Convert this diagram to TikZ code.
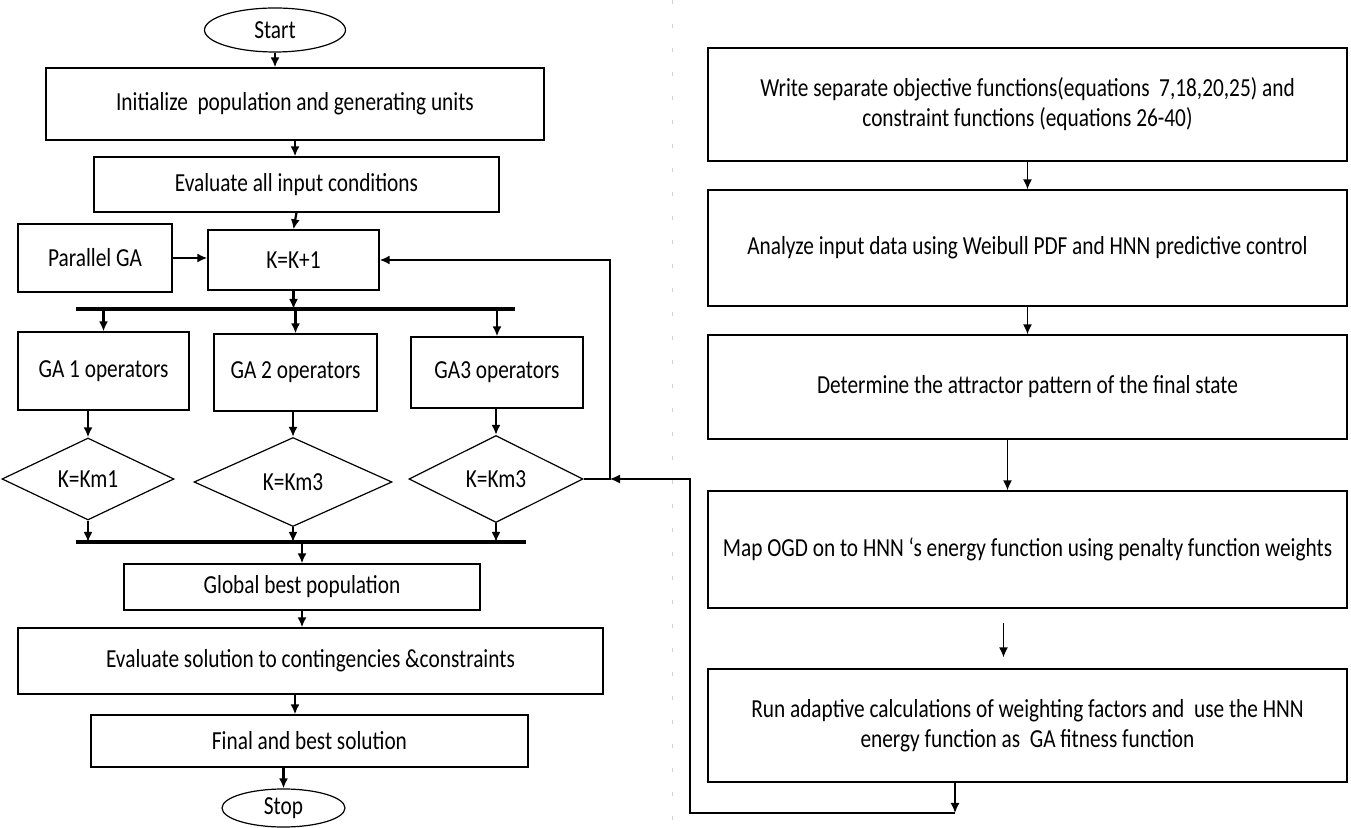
\documentclass[tikz,border=0pt]{standalone}
\usepackage{fontspec}
\setmainfont[FakeStretch=0.82]{Carlito}
\usetikzlibrary{shapes.geometric,arrows.meta,positioning}

\begin{document}
\begin{tikzpicture}[x=0.5pt, y=-0.5pt, >={Latex[length=5pt,width=4.5pt]},
    every node/.style={font=\fontsize{13}{15}\selectfont},
    box/.style={draw, line width=0.6pt, rectangle, inner sep=2pt, align=center},
    term/.style={draw, line width=0.6pt, ellipse, inner sep=0pt},
    test/.style={draw, line width=0.6pt, diamond, inner sep=0pt},
    link/.style={->, line width=1.1pt},
    bar/.style={line width=1.6pt}]
    \useasboundingbox (0,0) rectangle (1351,828);

    % Faint separator
    \draw[gray!35, line width=0.5pt, dash pattern=on 2pt off 10pt] (672,0) -- (672,828);

    % Left column
    \node[term, minimum width=70.5pt, minimum height=22pt] (start) at (275,30) {Start};
    \node[box, minimum width=249pt, minimum height=36pt] (init) at (295,104) {Initialize~ population and generating units};
    \node[box, minimum width=202.5pt, minimum height=27.5pt] (evalin) at (296.5,184.5) {Evaluate all input conditions};
    \node[box, minimum width=77pt, minimum height=34pt] (pga) at (95,258) {Parallel GA};
    \node[box, minimum width=85.5pt, minimum height=30pt] (kinc) at (293.5,260) {K=K+1};

    % Parallel branches
    \node[box, minimum width=85.5pt, minimum height=39pt] (ga1) at (103.5,371) {GA 1 operators};
    \node[box, minimum width=81.5pt, minimum height=38.5pt] (ga2) at (295.5,372.5) {GA 2 operators};
    \node[box, minimum width=86pt, minimum height=35.5pt] (ga3) at (497,372.5) {GA3 operators};
    \node[test, minimum width=86pt, minimum height=41pt] (d1) at (88,479) {K=Km1};
    \node[test, minimum width=99pt, minimum height=44.5pt] (d2) at (293,482) {K=Km3};
    \node[test, minimum width=87pt, minimum height=43.5pt] (d3) at (496,479) {K=Km3};

    \node[box, minimum width=178pt, minimum height=23pt] (gbest) at (302,587) {Global best population};
    \node[box, minimum width=292.5pt, minimum height=33pt] (evalsol) at (310.5,661) {Evaluate solution to contingencies \&constraints};
    \node[box, minimum width=218.5pt, minimum height=26pt] (final) at (309.5,741) {Final and best solution};
    \node[term, minimum width=61.5pt, minimum height=19pt] (stop) at (283.5,808) {Stop};

    % Bars
    \coordinate (b1w) at (76,309);
    \coordinate (b1e) at (515,309);
    \coordinate (b2w) at (76,542);
    \coordinate (b2e) at (526,542);
    \draw[bar] (b1w) -- (b1e);
    \draw[bar] (b2w) -- (b2e);

    % Left arrows
    \draw[link] (start.south) -- (start.south |- init.north);
    \draw[link] (init.south) -- (init.south |- evalin.north);
    \draw[link] (evalin.south) -- (kinc.north);
    \draw[link] (pga.east) -- (pga.east -| kinc.west);
    \draw[link] (kinc.south) -- (kinc.south |- b1w);
    \foreach \n in {ga1,ga2,ga3}
        \draw[link] (\n.north |- b1w) -- (\n.north);
    \foreach \n/\m in {ga1/d1,ga2/d2,ga3/d3}
        \draw[link] (\m.north |- \n.south) -- (\m.north);
    \foreach \m in {d1,d2,d3}
        \draw[link] (\m.south) -- (\m.south |- b2w);
    \draw[link] (gbest.north |- b2w) -- (gbest.north);
    \draw[link] (gbest.south) -- (gbest.south |- evalsol.north);
    \draw[link] ([xshift=-7.75pt]evalsol.south) -- ([xshift=-7.75pt]evalsol.south |- final.north);
    \draw[link] (stop.north |- final.south) -- (stop.north);

    % Feedback loop
    \coordinate (fb) at (610,479);
    \draw[->, line width=1.3pt] (d3.east) -- (fb) -- (fb |- kinc.east) -- (kinc.east);

    % Right column
    \node[box, minimum width=319.5pt, minimum height=56.5pt] (r1) at (1027.5,104.5) {Write separate objective functions(equations~ 7,18,20,25) and\\constraint functions (equations 26-40)};
    \node[box, minimum width=319.5pt, minimum height=58pt] (r2) at (1027.5,248) {Analyze input data using Weibull PDF and HNN predictive control};
    \node[box, minimum width=319.5pt, minimum height=52pt] (r3) at (1027.5,387) {Determine the attractor pattern of the final state};
    \node[box, minimum width=319.5pt, minimum height=58.5pt] (r4) at (1027.5,549.5) {Map OGD on to HNN ‘s energy function using penalty function weights};
    \node[box, minimum width=319.5pt, minimum height=56.5pt] (r5) at (1027.5,725.5) {Run adaptive calculations of weighting factors and~ use the HNN\\energy function as~ GA fitness function};

    % Right arrows
    \draw[->, line width=0.8pt] (r1.south) -- (r2.north);
    \draw[->, line width=0.8pt] (r2.south) -- (r3.north);
    \draw[->, line width=0.8pt] ([xshift=-10pt]r3.south) -- ([xshift=-10pt]r3.south |- r4.north);
    \draw[->, line width=0.8pt] ([xshift=-12pt,yshift=-7pt]r4.south) -- ([xshift=-12pt,yshift=5.5pt]r5.north);

    % Return to the loop
    \coordinate (ret) at (955,813);
    \coordinate (retc) at (690,813);
    \draw[->, line width=0.8pt] (r5.south -| ret) -- (ret);
    \draw[->, line width=0.6pt] (ret) -- (retc) -- (retc |- fb) -- (fb);
\end{tikzpicture}
\end{document}
